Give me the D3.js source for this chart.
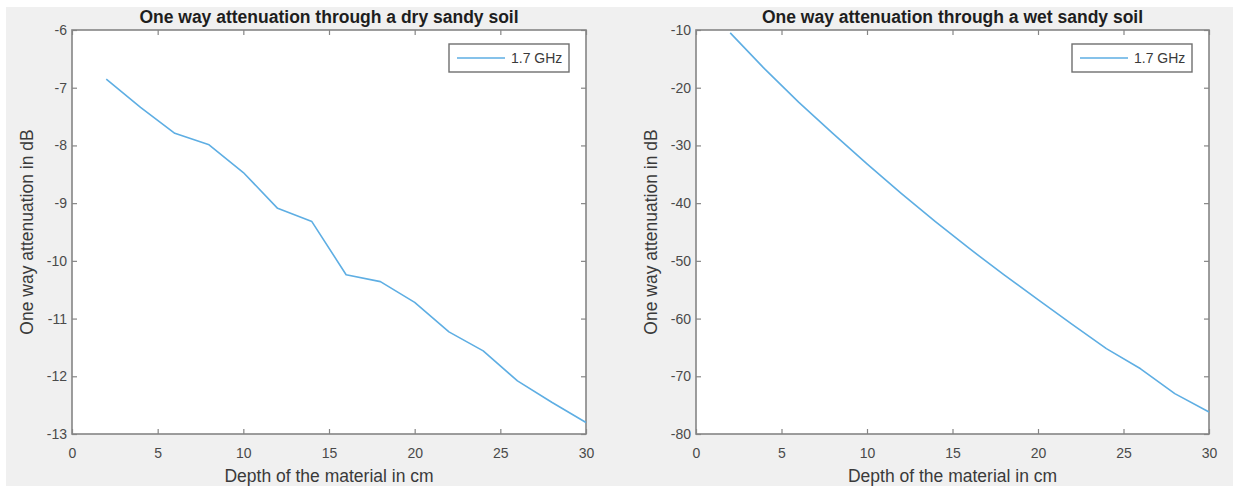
<!DOCTYPE html>
<html>
<head>
<meta charset="utf-8">
<script src="https://cdn.jsdelivr.net/npm/d3@7"></script>
<style>
  body { margin: 0; background: #fff; }
  svg { display: block; }
  text { font-family: Arial, "Liberation Sans", sans-serif; }
</style>
</head>
<body>
<script>
// depth of material (cm) sampled every 2 cm
const depthCm = [2, 4, 6, 8, 10, 12, 14, 16, 18, 20, 22, 24, 26, 28, 30];
// one way attenuation in dB
const dryAtten = [-6.85, -7.34, -7.79, -7.99, -8.47, -9.09, -9.32, -10.24, -10.36, -10.72, -11.23, -11.56, -12.08, -12.45, -12.80];
const wetAtten = [-10.5, -16.7, -22.5, -27.9, -33.2, -38.3, -43.2, -47.9, -52.4, -56.7, -61.0, -65.2, -68.7, -73.0, -76.2];
const xTicks = [0, 5, 10, 15, 20, 25, 30];
const dryTicks = [-13, -12, -11, -10, -9, -8, -7, -6];
const wetTicks = [-80, -70, -60, -50, -40, -30, -20, -10];
const seriesName = "1.7 GHz";
const titles = ["One way attenuation through a dry sandy soil", "One way attenuation through a wet sandy soil"];
const xLabel = "Depth of the material in cm";
const yLabel = "One way attenuation in dB";

const W = 1233, H = 486;
const svg = d3.select("body").append("svg")
  .attr("width", W).attr("height", H);

// figure background (white strip on top/left like the screenshot)
svg.append("rect").attr("x", 0).attr("y", 0).attr("width", W).attr("height", H).attr("fill", "#fff");
svg.append("rect").attr("x", 6).attr("y", 7).attr("width", W - 6).attr("height", H - 7).attr("fill", "#f0f0f0");

const axisColor = "#858585";
const lineColor = "#5eaee3";
const fmt = d => String(d); // plain hyphen minus like matlab

function drawPanel(left, right, values, yDomain, yTicks, title) {
  const top = 30, bottom = 434;
  const x = d3.scaleLinear().domain([0, 30]).range([left, right]);
  const y = d3.scaleLinear().domain(yDomain).range([bottom, top]);
  const g = svg.append("g");

  g.append("rect")
    .attr("x", left).attr("y", top)
    .attr("width", right - left).attr("height", bottom - top)
    .attr("fill", "#fff");

  const styleAxis = sel => {
    sel.select(".domain").remove();
    sel.attr("font-family", null).attr("font-size", null);
    sel.selectAll("line").attr("stroke", axisColor).attr("stroke-width", 1.2);
    sel.selectAll("text").attr("fill", "#4a4a4a").style("font-size", "14px");
  };

  g.append("g").attr("transform", `translate(0,${bottom})`)
    .call(d3.axisBottom(x).tickValues(xTicks).tickSize(-5).tickPadding(14).tickFormat(fmt))
    .call(styleAxis);
  g.append("g").attr("transform", `translate(0,${top})`)
    .call(d3.axisTop(x).tickValues(xTicks).tickSize(-5).tickFormat(""))
    .call(styleAxis);
  g.append("g").attr("transform", `translate(${left},0)`)
    .call(d3.axisLeft(y).tickValues(yTicks).tickSize(-5).tickPadding(5).tickFormat(fmt))
    .call(styleAxis);
  g.append("g").attr("transform", `translate(${right},0)`)
    .call(d3.axisRight(y).tickValues(yTicks).tickSize(-5).tickFormat(""))
    .call(styleAxis);

  g.append("rect")
    .attr("x", left).attr("y", top)
    .attr("width", right - left).attr("height", bottom - top)
    .attr("fill", "none").attr("stroke", axisColor).attr("stroke-width", 1.6);

  const line = d3.line()
    .x((d, i) => x(depthCm[i]))
    .y(d => y(d));
  g.append("path")
    .datum(values)
    .attr("fill", "none")
    .attr("stroke", lineColor)
    .attr("stroke-width", 1.6)
    .attr("stroke-linejoin", "round")
    .attr("d", line);

  // title
  g.append("text")
    .attr("x", (left + right) / 2).attr("y", 23)
    .attr("text-anchor", "middle")
    .attr("fill", "#1e1e1e")
    .style("font-size", "17.5px").style("font-weight", "bold")
    .text(title);

  // axis labels
  g.append("text")
    .attr("x", (left + right) / 2).attr("y", 482)
    .attr("text-anchor", "middle")
    .attr("fill", "#3a3a3a")
    .style("font-size", "17.5px")
    .text(xLabel);
  g.append("text")
    .attr("transform", `translate(${left - 39},${(top + bottom) / 2}) rotate(-90)`)
    .attr("text-anchor", "middle")
    .attr("fill", "#3a3a3a")
    .style("font-size", "17.5px")
    .text(yLabel);

  // legend
  const lx = right - 137, ly = 44;
  g.append("rect")
    .attr("x", lx).attr("y", ly).attr("width", 120).attr("height", 28)
    .attr("fill", "#fff").attr("stroke", "#6f6f6f").attr("stroke-width", 1.4);
  g.append("line")
    .attr("x1", lx + 8).attr("x2", lx + 56)
    .attr("y1", ly + 14).attr("y2", ly + 14)
    .attr("stroke", lineColor).attr("stroke-width", 1.6);
  g.append("text")
    .attr("x", lx + 62).attr("y", ly + 14).attr("dy", "0.35em")
    .attr("fill", "#3a3a3a")
    .style("font-size", "14px")
    .text(seriesName);
}

drawPanel(72, 586, dryAtten, [-13, -6], dryTicks, titles[0]);
drawPanel(696, 1209, wetAtten, [-80, -10], wetTicks, titles[1]);
</script>
</body>
</html>
